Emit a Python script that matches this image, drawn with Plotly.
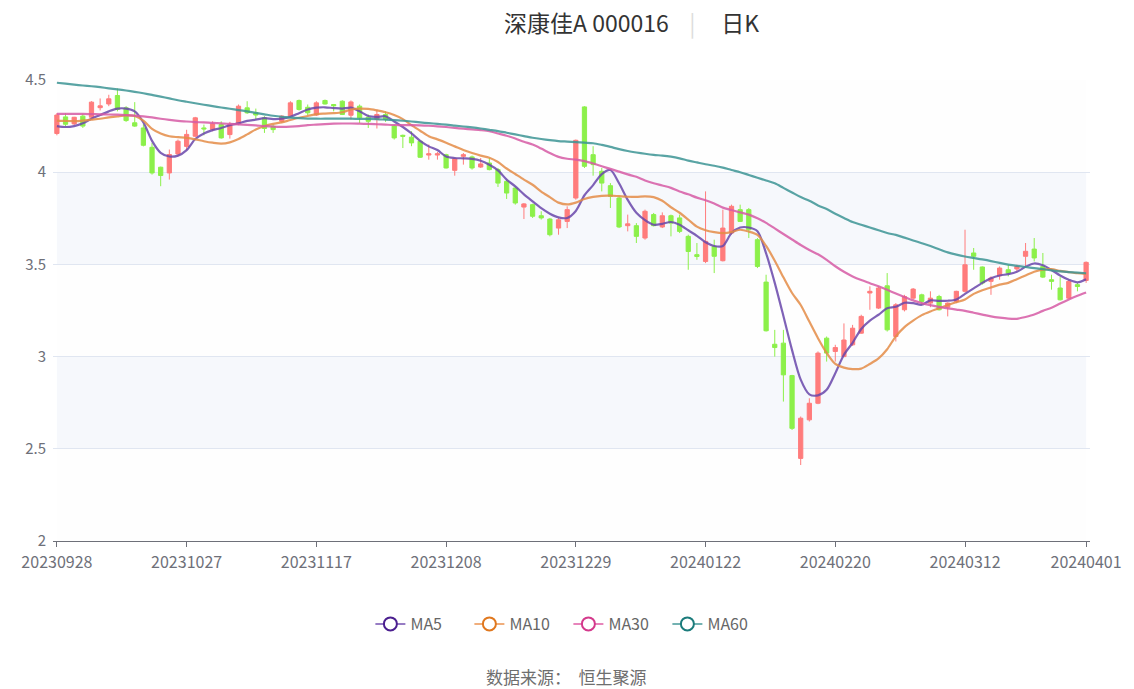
import plotly.graph_objects as go

# trading days shown on the chart, by month
trade_days = {
    "202309": [28],
    "202310": [9, 10, 11, 12, 13, 16, 17, 18, 19, 20, 23, 24, 25, 26, 27, 30, 31],
    "202311": [1, 2, 3, 6, 7, 8, 9, 10, 13, 14, 15, 16, 17, 20, 21, 22, 23, 24, 27, 28, 29, 30],
    "202312": [1, 4, 5, 6, 7, 8, 11, 12, 13, 14, 15, 18, 19, 20, 21, 22, 25, 26, 27, 28, 29],
    "202401": [2, 3, 4, 5, 8, 9, 10, 11, 12, 15, 16, 17, 18, 19, 22, 23, 24, 25, 26, 29, 30, 31],
    "202402": [1, 2, 5, 6, 7, 8, 19, 20, 21, 22, 23, 26, 27, 28, 29],
    "202403": [1, 4, 5, 6, 7, 8, 11, 12, 13, 14, 15, 18, 19, 20, 21, 22, 25, 26, 27, 28, 29],
    "202404": [1],
}
dates = [m + "%02d" % d for m, days in trade_days.items() for d in days]

tick_labels = ["20230928", "20231027", "20231117", "20231208", "20231229",
               "20240122", "20240220", "20240312", "20240401"]
y_ticks = [2, 2.5, 3, 3.5, 4, 4.5]

opens = [4.21, 4.30, 4.262, 4.304, 4.298, 4.35, 4.37, 4.416, 4.349, 4.268,
         4.24, 4.135, 4.027, 3.996, 4.099, 4.14, 4.195, 4.24, 4.231, 4.258,
         4.204, 4.262, 4.349, 4.322, 4.295, 4.249, 4.276, 4.304, 4.389, 4.352,
         4.31, 4.389, 4.367, 4.385, 4.309, 4.358, 4.298, 4.286, 4.313, 4.25,
         4.20, 4.19, 4.168, 4.093, 4.093, 4.095, 4.01, 4.086, 4.083, 4.028,
         4.05, 4.014, 3.95, 3.914, 3.811, 3.824, 3.764, 3.746, 3.697, 3.733,
         3.86, 4.354, 4.095, 4.005, 3.927, 3.86, 3.71, 3.71, 3.643, 3.77,
         3.703, 3.764, 3.752, 3.652, 3.553, 3.516, 3.598, 3.52, 3.67, 3.797,
         3.797, 3.634, 3.404, 3.067, 3.073, 2.897, 2.448, 2.657, 2.747, 3.10,
         3.028, 3.0, 3.064, 3.127, 3.345, 3.263, 3.384, 3.109, 3.254, 3.317,
         3.335, 3.29, 3.326, 3.268, 3.299, 3.354, 3.562, 3.486, 3.408, 3.438,
         3.471, 3.475, 3.544, 3.583, 3.489, 3.417, 3.372, 3.317, 3.39, 3.413]
highs = [4.32, 4.32, 4.30, 4.316, 4.385, 4.40, 4.42, 4.454, 4.358, 4.38,
         4.26, 4.159, 4.03, 4.123, 4.177, 4.23, 4.30, 4.258, 4.276, 4.276,
         4.273, 4.367, 4.385, 4.345, 4.304, 4.258, 4.309, 4.385, 4.394, 4.367,
         4.385, 4.394, 4.37, 4.39, 4.389, 4.367, 4.313, 4.34, 4.33, 4.258,
         4.204, 4.222, 4.17, 4.15, 4.11, 4.10, 4.077, 4.104, 4.09, 4.077,
         4.077, 4.023, 3.96, 3.923, 3.833, 3.829, 3.788, 3.752, 3.752, 3.815,
         4.177, 4.358, 4.141, 4.023, 3.941, 3.869, 3.77, 3.724, 3.797, 3.779,
         3.782, 3.77, 3.77, 3.661, 3.616, 3.896, 3.634, 3.797, 3.824, 3.824,
         3.806, 3.643, 3.444, 3.145, 3.145, 2.901, 2.675, 2.774, 3.028, 3.109,
         3.064, 3.18, 3.172, 3.227, 3.381, 3.381, 3.453, 3.29, 3.335, 3.372,
         3.341, 3.354, 3.335, 3.294, 3.357, 3.688, 3.589, 3.489, 3.435, 3.489,
         3.498, 3.498, 3.616, 3.643, 3.562, 3.444, 3.431, 3.417, 3.399, 3.516]
lows = [4.20, 4.25, 4.255, 4.24, 4.29, 4.335, 4.358, 4.33, 4.273, 4.246,
        4.14, 3.987, 3.924, 3.96, 4.087, 4.12, 4.19, 4.20, 4.222, 4.182,
        4.182, 4.255, 4.316, 4.286, 4.213, 4.213, 4.268, 4.298, 4.334, 4.31,
        4.305, 4.367, 4.33, 4.31, 4.285, 4.267, 4.24, 4.237, 4.273, 4.177,
        4.131, 4.141, 4.077, 4.068, 4.068, 4.02, 3.981, 4.041, 4.014, 4.023,
        4.01, 3.92, 3.855, 3.824, 3.746, 3.752, 3.743, 3.652, 3.661, 3.697,
        3.851, 4.023, 3.981, 3.896, 3.806, 3.697, 3.679, 3.616, 3.634, 3.706,
        3.697, 3.652, 3.67, 3.471, 3.525, 3.507, 3.453, 3.516, 3.661, 3.73,
        3.643, 3.48, 3.136, 3.0, 2.756, 2.602, 2.412, 2.648, 2.742, 2.973,
        2.973, 2.997, 3.058, 3.124, 3.254, 3.258, 3.136, 3.082, 3.245, 3.308,
        3.281, 3.268, 3.25, 3.218, 3.29, 3.348, 3.471, 3.39, 3.335, 3.417,
        3.435, 3.462, 3.489, 3.516, 3.426, 3.363, 3.304, 3.312, 3.354, 3.40]
closes = [4.31, 4.26, 4.298, 4.25, 4.38, 4.36, 4.398, 4.34, 4.28, 4.25,
          4.146, 3.996, 3.982, 4.096, 4.168, 4.205, 4.295, 4.235, 4.262, 4.186,
          4.258, 4.358, 4.322, 4.31, 4.237, 4.231, 4.304, 4.376, 4.34, 4.322,
          4.376, 4.37, 4.36, 4.313, 4.381, 4.295, 4.276, 4.313, 4.286, 4.186,
          4.195, 4.159, 4.081, 4.10, 4.10, 4.023, 4.072, 4.095, 4.023, 4.045,
          4.014, 3.941, 3.887, 3.833, 3.828, 3.761, 3.752, 3.661, 3.742, 3.797,
          4.173, 4.032, 4.041, 3.941, 3.869, 3.703, 3.72, 3.652, 3.788, 3.71,
          3.764, 3.724, 3.679, 3.57, 3.543, 3.625, 3.544, 3.697, 3.815, 3.733,
          3.688, 3.489, 3.14, 3.049, 2.901, 2.611, 2.666, 2.747, 3.019, 3.019,
          3.049, 3.09, 3.154, 3.218, 3.354, 3.372, 3.145, 3.281, 3.326, 3.366,
          3.299, 3.317, 3.254, 3.29, 3.354, 3.498, 3.544, 3.399, 3.426, 3.48,
          3.453, 3.489, 3.571, 3.535, 3.431, 3.408, 3.308, 3.408, 3.38, 3.511]

ma5 = [4.25, 4.245, 4.25, 4.265, 4.29, 4.31, 4.33, 4.345, 4.345, 4.33,
       4.27, 4.17, 4.105, 4.085, 4.09, 4.12, 4.18, 4.21, 4.228, 4.24,
       4.255, 4.265, 4.278, 4.285, 4.293, 4.288, 4.29, 4.30, 4.32, 4.34,
       4.35, 4.352, 4.348, 4.345, 4.35, 4.33, 4.305, 4.30, 4.303, 4.275,
       4.245, 4.21, 4.17, 4.14, 4.12, 4.085, 4.077, 4.075, 4.072, 4.062,
       4.04, 4.01, 3.96, 3.923, 3.88, 3.842, 3.805, 3.775, 3.755, 3.752,
       3.79, 3.875, 3.93, 3.99, 4.012, 3.94, 3.85, 3.78, 3.74, 3.715,
       3.72, 3.73, 3.715, 3.685, 3.655, 3.62, 3.60, 3.60, 3.67, 3.70,
       3.70, 3.68, 3.56, 3.40, 3.22, 3.035, 2.875, 2.795, 2.79, 2.82,
       2.91, 3.01, 3.075, 3.15, 3.195, 3.227, 3.262, 3.27, 3.292, 3.29,
       3.281, 3.305, 3.302, 3.303, 3.31, 3.34, 3.37, 3.40, 3.425, 3.44,
       3.447, 3.46, 3.487, 3.505, 3.495, 3.47, 3.44, 3.417, 3.403, 3.42]
ma10 = [4.28, 4.278, 4.277, 4.28, 4.285, 4.29, 4.297, 4.303, 4.308, 4.305,
        4.28, 4.235, 4.21, 4.195, 4.19, 4.186, 4.178, 4.168, 4.16, 4.155,
        4.162, 4.18, 4.205, 4.232, 4.25, 4.262, 4.27, 4.283, 4.295, 4.305,
        4.315, 4.318, 4.32, 4.325, 4.34, 4.345, 4.343, 4.335, 4.325, 4.31,
        4.288, 4.255, 4.225, 4.195, 4.178, 4.16, 4.14, 4.12, 4.104, 4.09,
        4.078, 4.055, 4.02, 3.99, 3.96, 3.932, 3.895, 3.865, 3.835, 3.825,
        3.835, 3.855, 3.866, 3.872, 3.873, 3.87, 3.867, 3.866, 3.869, 3.865,
        3.845, 3.81, 3.78, 3.743, 3.705, 3.685, 3.675, 3.67, 3.675, 3.688,
        3.678, 3.66, 3.60, 3.52, 3.43, 3.345, 3.28, 3.19, 3.10, 3.02,
        2.96, 2.94, 2.932, 2.935, 2.96, 2.99, 3.04, 3.11, 3.16, 3.195,
        3.225, 3.245, 3.262, 3.28, 3.295, 3.31, 3.34, 3.36, 3.375, 3.39,
        3.40, 3.42, 3.44, 3.46, 3.472, 3.474, 3.465, 3.458, 3.452, 3.449]
ma30 = [4.316, 4.316, 4.316, 4.316, 4.315, 4.314, 4.313, 4.312, 4.31, 4.307,
        4.303, 4.297, 4.29, 4.284, 4.278, 4.275, 4.272, 4.27, 4.267, 4.265,
        4.262, 4.259, 4.257, 4.254, 4.25, 4.247, 4.246, 4.247, 4.25, 4.255,
        4.258, 4.261, 4.263, 4.264, 4.264, 4.263, 4.262, 4.26, 4.258, 4.256,
        4.255, 4.255, 4.254, 4.252, 4.249, 4.245, 4.24, 4.236, 4.232, 4.228,
        4.222, 4.21, 4.198, 4.183, 4.165, 4.15, 4.128, 4.104, 4.083, 4.073,
        4.068, 4.06, 4.047, 4.032, 4.018, 4.003, 3.988, 3.975, 3.955, 3.94,
        3.928, 3.915, 3.895, 3.88, 3.862, 3.848, 3.83, 3.808, 3.795, 3.782,
        3.77, 3.75, 3.725, 3.695, 3.665, 3.635, 3.605, 3.578, 3.555, 3.525,
        3.49, 3.46, 3.435, 3.415, 3.398, 3.381, 3.362, 3.342, 3.323, 3.305,
        3.29, 3.279, 3.27, 3.262, 3.255, 3.248, 3.238, 3.228, 3.218, 3.211,
        3.206, 3.205, 3.215, 3.228, 3.248, 3.265, 3.288, 3.31, 3.33, 3.348]
ma60 = [4.485, 4.48, 4.475, 4.47, 4.466, 4.461, 4.455, 4.449, 4.443, 4.436,
        4.428, 4.419, 4.41, 4.4, 4.39, 4.382, 4.374, 4.366, 4.358, 4.351,
        4.344, 4.337, 4.33, 4.322, 4.314, 4.306, 4.3, 4.296, 4.293, 4.291,
        4.29, 4.29, 4.29, 4.29, 4.29, 4.289, 4.289, 4.288, 4.285, 4.282,
        4.279, 4.275, 4.27, 4.266, 4.262, 4.258, 4.253, 4.248, 4.243, 4.237,
        4.23, 4.223, 4.214, 4.205, 4.196, 4.187, 4.18, 4.174, 4.169, 4.166,
        4.163, 4.16, 4.157, 4.148, 4.137, 4.125, 4.115, 4.107, 4.1, 4.094,
        4.09, 4.084, 4.075, 4.063, 4.053, 4.043, 4.035, 4.025, 4.012, 4.0,
        3.985, 3.97, 3.955, 3.94, 3.915, 3.89, 3.865, 3.845, 3.82, 3.80,
        3.775, 3.752, 3.73, 3.715, 3.70, 3.685, 3.67, 3.66, 3.645, 3.63,
        3.615, 3.60, 3.582, 3.565, 3.553, 3.543, 3.535, 3.527, 3.518, 3.508,
        3.499, 3.492, 3.486, 3.48, 3.474, 3.468, 3.462, 3.458, 3.455, 3.452]

ma_series = [
    ("MA5", ma5, "rgba(104,70,170,0.85)", "#4B1F8F", "rgba(140,110,190,0.9)"),
    ("MA10", ma10, "rgba(228,140,70,0.85)", "#E0781F", "rgba(238,165,110,0.9)"),
    ("MA30", ma30, "rgba(214,90,165,0.85)", "#D43A8C", "rgba(228,120,180,0.9)"),
    ("MA60", ma60, "rgba(60,148,148,0.85)", "#1C7C7C", "rgba(100,170,170,0.9)"),
]

font_family = "Noto Sans CJK SC, Noto Sans, sans-serif"
red = "#FF7C7C"
green = "#8CF04A"

fig = go.Figure()

fig.add_trace(go.Candlestick(
    x=dates, open=opens, high=highs, low=lows, close=closes,
    increasing=dict(line=dict(color=red, width=1), fillcolor=red),
    decreasing=dict(line=dict(color=green, width=1), fillcolor=green),
    whiskerwidth=0, showlegend=False, name="日K"))

for name, vals, col, dark, light in ma_series:
    fig.add_trace(go.Scatter(
        x=dates, y=vals, mode="lines", name=name, showlegend=False,
        line=dict(color=col, width=2.2, shape="spline", smoothing=0.8)))
    # legend-only entry with the hollow circle icon
    fig.add_trace(go.Scatter(
        x=[None], y=[None], mode="lines+markers", name=name,
        line=dict(color=light, width=2),
        marker=dict(symbol="circle", size=13, color="white",
                    line=dict(color=dark, width=2))))

# alternating split areas between y ticks
band_fills = ["rgba(250,250,250,0.2)", "rgba(210,219,238,0.2)"]
shapes = []
for k in range(len(y_ticks) - 1):
    shapes.append(dict(type="rect", xref="x", yref="y", layer="below",
                       x0=0, x1=len(dates) - 1, y0=y_ticks[k], y1=y_ticks[k + 1],
                       fillcolor=band_fills[k % 2], line=dict(width=0)))

fig.update_layout(
    width=1134, height=689, autosize=False,
    margin=dict(l=53, r=42, t=80, b=148),
    paper_bgcolor="white", plot_bgcolor="white",
    font=dict(family=font_family, color="#6E7079"),
    shapes=shapes,
    showlegend=True,
    legend=dict(orientation="h", x=0.497, xanchor="center", y=-0.18, yanchor="middle",
                font=dict(size=16, color="#666666"), itemclick=False,
                entrywidth=54, entrywidthmode="pixels",
                bgcolor="rgba(0,0,0,0)"),
    annotations=[
        dict(text="深康佳A 000016 &nbsp;&nbsp;&nbsp;<span style='color:#DDDDDD'>|</span>&nbsp;&nbsp;&nbsp;&nbsp; 日K",
             xref="paper", yref="paper", x=0.558, y=1.126, xanchor="center", yanchor="middle",
             showarrow=False, font=dict(size=23, color="#333333", family=font_family)),
        dict(text="数据来源：&nbsp;&nbsp;恒生聚源",
             xref="paper", yref="paper", x=0.495, y=-0.293, xanchor="center", yanchor="middle",
             showarrow=False, font=dict(size=17, color="#6E6E6E", family=font_family)),
    ],
)

fig.update_xaxes(
    type="category", range=[-0.45, len(dates) - 0.55],
    rangeslider=dict(visible=False),
    tickmode="array", tickvals=tick_labels, ticktext=tick_labels,
    showgrid=False, zeroline=False,
    showline=True, linecolor="#6E7079", linewidth=1,
    ticks="outside", ticklen=5, tickcolor="#6E7079",
    ticklabelstandoff=2,
    tickfont=dict(size=16, color="#6E7079"))
fig.update_yaxes(
    range=[2, 4.5], tickmode="array", tickvals=y_ticks,
    ticktext=[("%g" % v) for v in y_ticks],
    showgrid=True, gridcolor="#E0E6F1", gridwidth=1,
    zeroline=False, showline=False, ticks="",
    ticklabelstandoff=6,
    tickfont=dict(size=15, color="#6E7079"))

# drop the default 8px page margin so the figure sits at the window origin
fig.write_html("out.html", config={"displayModeBar": False},
               post_script="document.body.style.margin='0';")
